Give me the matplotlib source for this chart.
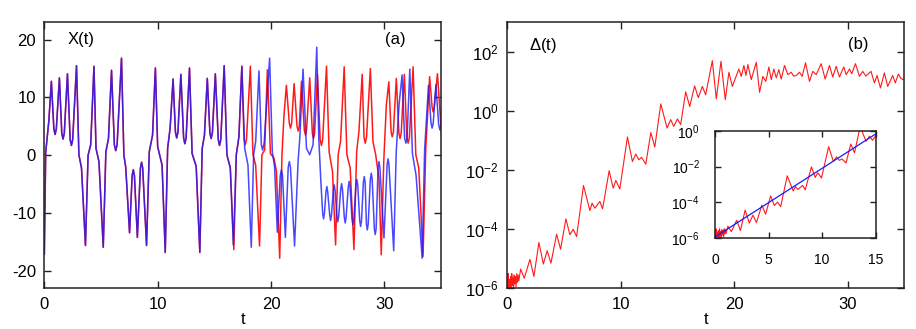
import numpy as np
import matplotlib
matplotlib.use("Agg")
import matplotlib.pyplot as plt
from matplotlib.ticker import FixedLocator, NullLocator

plt.rcParams['font.family'] = ['Liberation Sans', 'DejaVu Sans']
plt.rcParams['mathtext.default'] = 'regular'
plt.rcParams['axes.unicode_minus'] = False

# ------------------ DATA ------------------
# X(t) while both runs still overlap, as (t, X)
common_pts = [
    (0.00, -17.1), (0.12, 0.5), (0.25, 3.0), (0.40, 6.0), (0.62, 12.8),
    (0.84, 4.6), (0.95, 3.6), (1.06, 4.6), (1.33, 13.4),
    (1.54, 3.8), (1.65, 2.8), (1.76, 3.8), (2.04, 14.1),
    (2.28, 2.7), (2.39, 1.7), (2.50, 2.7), (2.84, 15.5),
    (3.05, 0.1), (3.28, -2.2), (3.63, -15.6), (3.86, 0.0), (4.09, 1.8), (4.38, 15.4),
    (4.56, 1.2), (4.82, -1.1), (5.20, -15.9), (5.43, 0.6), (5.66, 2.9), (5.93, 14.7),
    (6.18, 1.8), (6.30, 0.8), (6.42, 1.8), (6.81, 16.8),
    (7.02, 0.0), (7.18, -2.0), (7.52, -13.4),
    (7.75, -3.5), (7.85, -2.5), (7.95, -3.5), (8.21, -14.2),
    (8.48, -2.2), (8.58, -1.2), (8.68, -2.2), (9.02, -15.6),
    (9.26, 0.6), (9.55, 3.5), (9.80, 15.1), (10.00, 1.5), (10.39, -1.7), (10.67, -16.8),
    (10.88, 1.2), (11.10, 4.7), (11.36, 13.2),
    (11.57, 4.0), (11.68, 3.0), (11.79, 4.0), (12.05, 14.0),
    (12.29, 3.0), (12.40, 2.0), (12.51, 3.0), (12.81, 15.1),
    (13.04, 0.3), (13.40, -1.9), (13.72, -16.8), (13.93, 1.2), (14.13, 3.5), (14.38, 13.3),
    (14.61, 3.9), (14.72, 2.9), (14.83, 3.9), (15.09, 14.1),
    (15.35, 2.7), (15.46, 1.7), (15.57, 2.7), (15.87, 15.5),
    (16.11, 0.1), (16.41, -2.2),
]

# reference run after the two separate
red_pts = [
    (16.72, -16.3), (16.94, 0.1), (17.17, 3.2), (17.43, 15.4),
    (17.62, 2.8), (17.73, 1.8), (17.84, 2.8), (18.18, 15.4),
    (18.41, 0.1), (18.65, -1.7), (18.99, -15.7), (19.20, 0.1), (19.44, 0.9), (19.68, 14.8),
    (19.95, 0.3), (20.27, -0.5), (20.48, -2.8), (20.77, -17.8), (20.97, 0.1), (21.15, 7.0),
    (21.36, 12.1),
    (21.62, 5.5), (21.72, 4.7), (21.82, 5.5), (22.04, 12.4),
    (22.30, 5.0), (22.40, 4.2), (22.50, 5.0), (22.69, 12.8),
    (22.94, 4.4), (23.04, 3.5), (23.14, 4.4), (23.42, 13.4),
    (23.65, 3.8), (23.75, 2.9), (23.85, 3.8), (24.10, 14.0),
    (24.34, 2.7), (24.45, 1.7), (24.56, 2.7), (24.90, 15.4),
    (25.13, 0.6), (25.43, -2.8), (25.70, -15.5), (25.93, 0.1), (26.14, 2.4), (26.46, 15.3),
    (26.70, 0.1), (26.99, -2.2), (27.32, -16.3), (27.56, 0.6), (27.76, 4.1), (28.05, 14.0),
    (28.21, 3.1), (28.32, 2.1), (28.43, 3.1), (28.77, 15.0),
    (29.00, 2.4), (29.24, 0.1), (29.53, -4.0), (29.73, -17.2), (29.95, -1.1), (30.18, 8.7),
    (30.40, 12.7),
    (30.60, 4.0), (30.70, 3.2), (30.80, 4.0), (31.06, 13.3),
    (31.29, 3.8), (31.39, 2.9), (31.49, 3.8), (31.77, 14.0),
    (31.99, 3.0), (32.10, 2.1), (32.21, 3.0), (32.54, 15.3),
    (32.78, 0.1), (33.04, -2.2), (33.42, -17.5), (33.66, 1.2), (34.00, 13.6),
    (34.22, 8.3), (34.31, 7.5), (34.40, 8.3), (34.69, 14.1), (35.08, 2.7),
]

# perturbed run after the two separate
blue_pts = [
    (16.68, -15.5), (16.94, 0.1), (17.17, 3.2), (17.43, 15.4), (17.68, 1.2), (17.97, -1.7),
    (18.26, -15.9), (18.47, 0.1), (18.65, 2.4), (18.94, 14.6),
    (19.15, 1.8), (19.26, 0.9), (19.40, 2.2), (19.88, 16.8),
    (20.12, 0.5), (20.32, -2.0), (20.56, -13.3),
    (20.82, -3.5), (20.92, -2.5), (21.02, -3.5), (21.27, -14.2),
    (21.52, -2.1), (21.62, -1.1), (21.72, -2.1), (22.08, -15.7),
    (22.39, -1.1), (22.54, 2.9), (22.83, 14.9), (23.13, 1.2), (23.42, 0.1), (23.71, 1.8),
    (24.04, 18.7), (24.22, 2.9), (24.40, -4.5),
    (24.56, -10.0), (24.64, -11.0), (24.72, -10.0),
    (24.85, -6.4), (24.93, -5.4), (25.01, -6.4),
    (25.18, -10.3), (25.26, -11.3), (25.34, -10.3),
    (25.50, -6.1), (25.58, -5.1), (25.66, -6.1),
    (25.82, -10.5), (25.90, -11.5), (25.98, -10.5),
    (26.15, -5.9), (26.23, -4.9), (26.31, -5.9),
    (26.47, -10.7), (26.55, -11.7), (26.63, -10.7),
    (26.82, -5.5), (26.90, -4.5), (26.98, -5.5),
    (27.15, -11.0), (27.23, -12.0), (27.31, -11.0),
    (27.50, -5.2), (27.58, -4.2), (27.66, -5.2),
    (27.83, -11.3), (27.91, -12.3), (27.99, -11.3),
    (28.15, -4.7), (28.23, -3.7), (28.31, -4.7),
    (28.42, -11.9), (28.50, -12.9), (28.58, -11.9),
    (28.77, -4.1), (28.85, -3.1), (28.93, -4.1),
    (29.12, -12.7), (29.20, -13.7), (29.28, -12.7),
    (29.45, -2.1), (29.53, -1.1), (29.61, -2.1),
    (29.97, -14.3),
    (30.25, -1.6), (30.33, -0.6), (30.41, -1.6),
    (30.83, -16.5), (31.05, 0.5), (31.30, 8.7), (31.57, 13.9),
    (31.79, 3.0), (31.90, 2.1), (32.01, 3.0), (32.25, 14.9),
    (32.48, 0.3), (32.80, -3.4), (33.34, -17.8), (33.56, 1.0), (33.90, 12.1),
    (34.12, 5.6), (34.22, 4.7), (34.32, 5.6), (34.55, 12.2),
    (34.80, 5.3), (34.90, 4.4), (35.00, 5.3), (35.10, 7.0),
]

# separation Delta(t) between the runs, as (t, log10 Delta)
delta_pts = [
    (0.00, -5.55), (0.05, -6.10), (0.10, -5.50), (0.15, -6.05), (0.20, -5.70),
    (0.26, -5.95), (0.31, -5.60), (0.36, -6.10), (0.42, -5.50), (0.47, -5.90),
    (0.52, -5.65), (0.58, -6.05), (0.63, -5.55), (0.68, -5.85), (0.74, -5.60),
    (0.80, -5.95), (0.86, -5.50), (0.92, -5.80), (0.98, -5.55), (1.04, -5.75),
    (1.20, -5.35), (1.52, -5.66), (2.02, -5.02), (2.37, -5.60), (2.81, -4.45),
    (3.20, -5.18), (3.54, -4.73), (3.87, -5.15), (4.37, -4.17), (4.72, -4.68),
    (5.19, -3.65), (5.54, -4.19), (5.83, -4.00), (6.13, -4.25), (6.74, -2.52),
    (7.30, -3.37), (7.50, -3.12), (7.74, -3.29), (8.18, -3.06), (8.42, -3.31),
    (9.00, -2.02), (9.35, -2.61), (9.59, -2.35), (9.94, -2.64), (10.61, -0.88),
    (11.05, -1.71), (11.35, -1.46), (11.61, -1.65), (11.85, -1.57), (12.23, -1.80),
    (12.67, -0.73), (13.02, -1.22), (13.55, 0.24), (14.10, -0.58), (14.42, -0.29),
    (14.69, -0.52), (15.01, -0.27), (15.30, -0.46), (15.74, 0.65), (16.10, 0.15),
    (16.53, 0.85), (16.85, 0.45), (17.21, 0.83), (17.50, 0.55), (18.09, 1.70),
    (18.44, 0.41), (18.85, 1.68), (19.23, 0.38), (19.55, 1.31), (19.85, 0.83),
    (20.43, 1.42), (20.64, 1.17), (20.87, 1.54), (21.05, 1.20), (21.22, 1.57),
    (21.52, 1.06), (21.96, 1.65), (22.25, 0.63), (22.54, 1.17), (22.80, 1.00),
    (23.07, 1.49), (23.28, 1.06), (23.51, 1.42), (23.72, 1.12), (23.95, 1.40),
    (24.16, 1.08), (24.45, 1.54), (24.74, 1.23), (25.04, 1.31), (25.25, 1.18),
    (25.48, 1.20), (25.77, 1.31), (26.00, 1.17), (26.30, 1.63), (26.65, 1.00),
    (26.94, 1.34), (27.24, 1.23), (27.68, 1.60), (28.03, 1.08), (28.41, 1.54),
    (28.70, 1.15), (29.00, 1.51), (29.29, 1.15), (29.67, 1.49), (29.88, 1.23),
    (30.17, 1.42), (30.37, 1.26), (30.70, 1.60), (31.05, 1.17), (31.34, 1.34),
    (31.62, 1.18), (32.07, 1.34), (32.37, 0.95), (32.60, 1.20), (32.90, 0.78),
    (33.25, 1.29), (33.54, 0.83), (33.98, 1.20), (34.21, 0.95), (34.48, 1.25),
    (34.70, 1.10), (35.00, 1.05),
]

# exponential fit drawn in the inset
fit_t = [0.0, 15.0]
fit_delta = [1.1e-6, 0.68]

log_ticks = [1e-6, 1e-4, 1e-2, 1e0, 1e2]
log_labels = ['$10^{-6}$', '$10^{-4}$', '$10^{-2}$', '$10^{0}$', '$10^{2}$']

red = common_pts + red_pts
blue = common_pts + blue_pts
red_t, red_x = zip(*red)
blue_t, blue_x = zip(*blue)
delta_t, delta_log = zip(*delta_pts)
delta = 10.0 ** np.array(delta_log)

# ------------------ FIGURE ------------------
fig = plt.figure(figsize=(9.16, 3.29), dpi=100)
ax1 = fig.add_axes([0.0484, 0.1237, 0.4330, 0.8085])
ax2 = fig.add_axes([0.5535, 0.1237, 0.4337, 0.8085])
ax3 = fig.add_axes([0.7806, 0.2775, 0.1754, 0.3243])


def frame(ax, size, pad):
    for s in ax.spines.values():
        s.set_linewidth(1.1)
        s.set_color('#222222')
    ax.tick_params(direction='in', top=True, right=True, length=5, width=1,
                   labelsize=size, pad=pad, colors='#222222', labelcolor='black')


# ------------------ PANEL (a) ------------------
ax1.plot(red_t, red_x, color='#ff1a1a', lw=1.1)
ax1.plot(blue_t, blue_x, color='#1a1aff', lw=1.1, alpha=0.8)
ax1.set_xlim(0, 35)
ax1.set_ylim(-23, 23)
ax1.set_xticks([0, 10, 20, 30])
ax1.set_yticks([-20, -10, 0, 10, 20])
frame(ax1, 12, 6)
ax1.set_xlabel('t', fontsize=12, labelpad=0)
ax1.text(0.0925, 0.937, 'X(t)', transform=ax1.transAxes, fontsize=12,
         ha='center', va='center')
ax1.text(0.884, 0.934, '(a)', transform=ax1.transAxes, fontsize=12,
         ha='center', va='center')

# ------------------ PANEL (b) ------------------
ax2.plot(delta_t, delta, color='#ff1a1a', lw=0.8)
ax2.set_yscale('log')
ax2.set_xlim(0, 35)
ax2.set_ylim(1e-6, 1e3)
ax2.set_xticks([0, 10, 20, 30])
ax2.yaxis.set_major_locator(FixedLocator(log_ticks))
ax2.yaxis.set_minor_locator(NullLocator())
ax2.set_yticklabels(log_labels)
frame(ax2, 12, 6)
ax2.set_xlabel('t', fontsize=12, labelpad=0)
ax2.text(0.0906, 0.911, r'$\Delta$(t)', transform=ax2.transAxes, fontsize=12,
         ha='center', va='center')
ax2.text(0.883, 0.915, '(b)', transform=ax2.transAxes, fontsize=12,
         ha='center', va='center')

# ------------------ INSET ------------------
ax3.plot(delta_t, delta, color='#ff1a1a', lw=0.8)
ax3.plot(fit_t, fit_delta, color='#1a1aff', lw=0.9)
ax3.set_yscale('log')
ax3.set_xlim(0, 15)
ax3.set_ylim(1e-6, 1e0)
ax3.set_xticks([0, 5, 10, 15])
ax3.yaxis.set_major_locator(FixedLocator(log_ticks[:4]))
ax3.yaxis.set_minor_locator(NullLocator())
ax3.set_yticklabels(log_labels[:4])
frame(ax3, 10, 11)
ax3.tick_params(length=4)

fig.savefig('out.png', dpi=100)
